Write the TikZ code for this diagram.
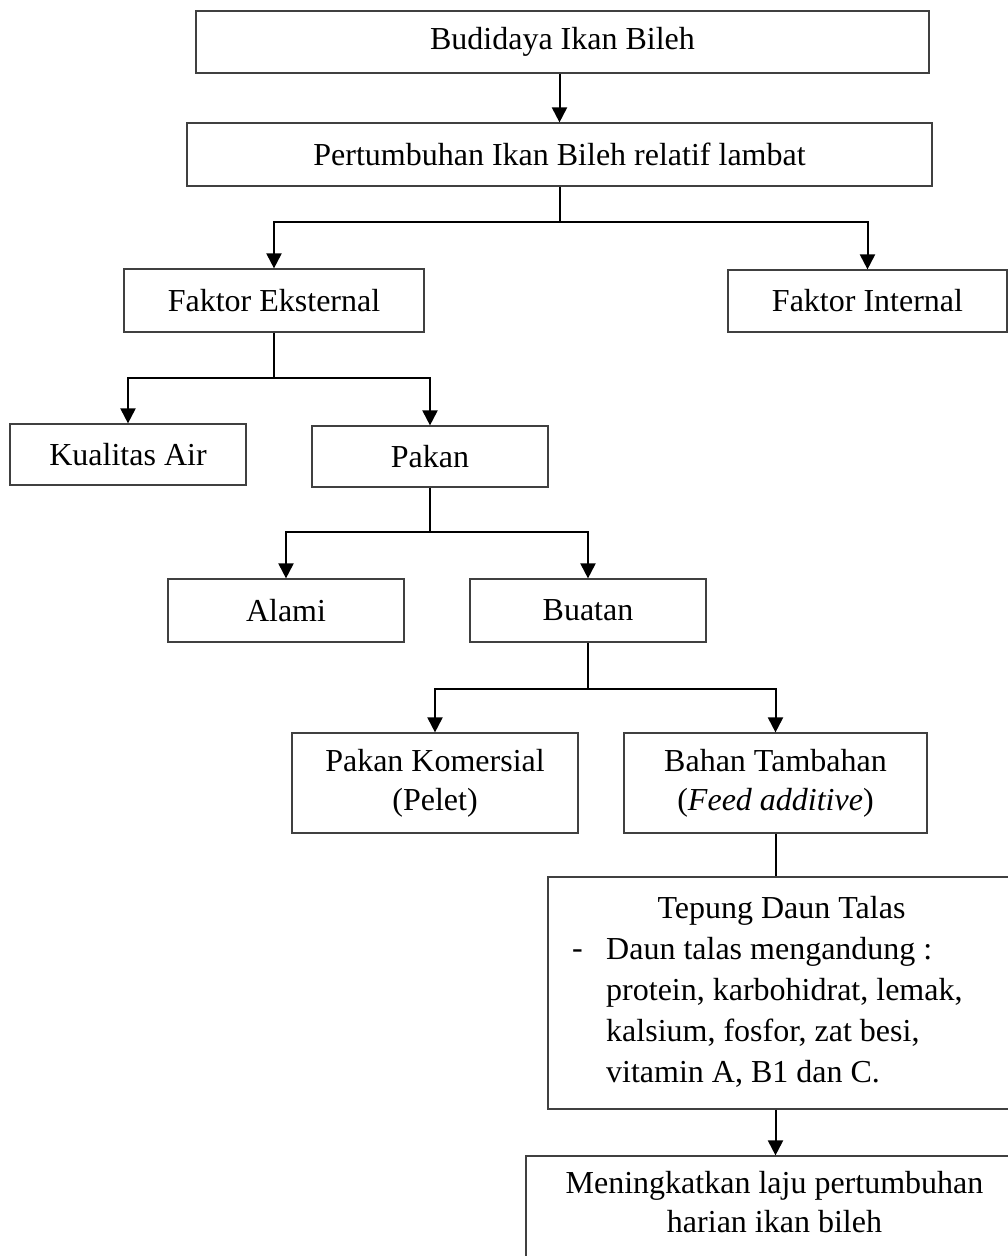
\documentclass[tikz,border=0pt]{standalone}
\usepackage{fontspec}
\setmainfont{Liberation Serif}
\usetikzlibrary{arrows.meta}
\begin{document}
\begin{tikzpicture}[x=1pt,y=-1pt,
  box/.style={draw=black!75, line width=1.2pt, rectangle, inner sep=0pt, align=center, font=\fontsize{32}{39}\selectfont},
  txt/.style={inner sep=0pt, font=\fontsize{32}{41}\selectfont},
  conn/.style={line width=2pt, draw=black},
  arr/.style={conn, -{Triangle[length=15pt,width=15pt]}}]
\useasboundingbox (0,0) rectangle (1008,1256);
\clip (0,0) rectangle (1008,1256);
\fill[white] (0,0) rectangle (1008,1256);

\node[box, minimum width=733pt, minimum height=62pt] (b1) at (562.5,42) {Budidaya Ikan Bileh};
\node[box, minimum width=745pt, minimum height=63pt] (b2) at (559.5,154.5) {Pertumbuhan Ikan Bileh relatif lambat};
\node[box, minimum width=300pt, minimum height=63pt] (fe) at (274,300.5) {Faktor Eksternal};
\node[box, minimum width=279pt, minimum height=62pt] (fi) at (867.5,301) {Faktor Internal};
\node[box, minimum width=236pt, minimum height=61pt] (ka) at (128,454.5) {Kualitas Air};
\node[box, minimum width=236pt, minimum height=61pt] (pk) at (430,456.5) {Pakan};
\node[box, minimum width=236pt, minimum height=63pt] (al) at (286,610.5) {Alami};
\node[box, minimum width=236pt, minimum height=63pt] (bu) at (588,610.5) {Buatan};
\node[box, minimum width=286pt, minimum height=100pt] (pko) at (435,783) {Pakan Komersial\\(Pelet)};
\node[box, minimum width=303pt, minimum height=100pt] (bt) at (775.5,783) {Bahan Tambahan\\(\textit{Feed additive})};
\node[box, minimum width=467pt, minimum height=232pt] (tp) at (781.5,993) {};
\node[txt, anchor=base] (tpt) at (781.5,918) {Tepung Daun Talas};
\node[txt, anchor=base west] (tpd) at (572,958) {-};
\node[txt, anchor=base west, align=left] (tpl) at (606,1082) {Daun talas mengandung :\\protein, karbohidrat, lemak,\\kalsium, fosfor, zat besi,\\vitamin A, B1 dan C.};
\node[box, minimum width=497pt, minimum height=130pt] (mk) at (774.5,1221) {};
\node[txt, anchor=base, align=center, font=\fontsize{32}{39}\selectfont] (mkt) at (774.5,1232) {Meningkatkan laju pertumbuhan\\harian ikan bileh};

\draw[arr] (b1.south -| b2.south) -- (b2.north);
\draw[conn] (b2.south) -- (b2.south |- 0,222) coordinate (j1);
\draw[arr] (j1) -| (fe.north);
\draw[arr] (j1) -| (fi.north);
\draw[conn] (fe.south) -- (fe.south |- 0,378) coordinate (j2);
\draw[arr] (j2) -| (ka.north);
\draw[arr] (j2) -| (pk.north);
\draw[conn] (pk.south) -- (pk.south |- 0,532) coordinate (j3);
\draw[arr] (j3) -| (al.north);
\draw[arr] (j3) -| (bu.north);
\draw[conn] (bu.south) -- (bu.south |- 0,689) coordinate (j4);
\draw[arr] (j4) -| (pko.north);
\draw[arr] (j4) -| (bt.north);
\draw[conn] (bt.south) -- (bt.south |- tp.north);
\draw[arr] (bt.south |- tp.south) -- (bt.south |- mk.north);
\end{tikzpicture}
\end{document}
